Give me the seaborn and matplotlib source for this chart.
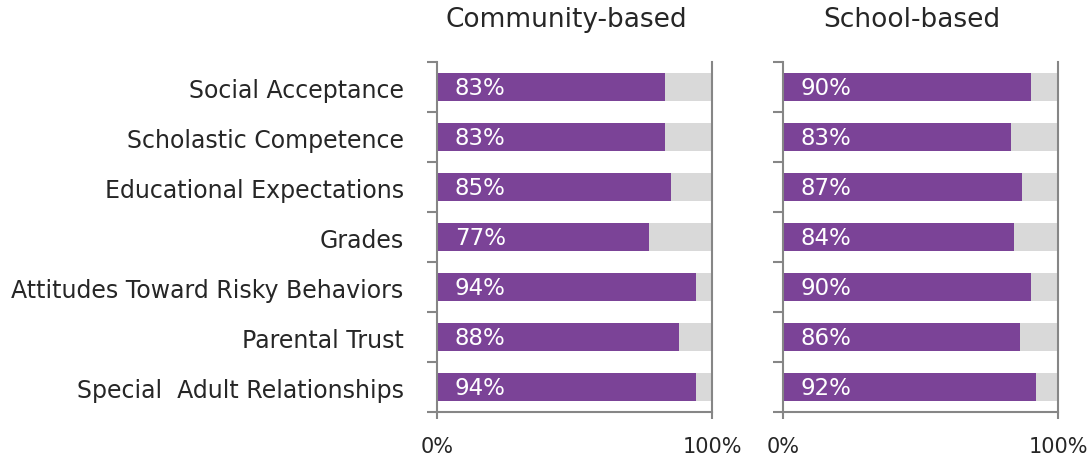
import matplotlib
matplotlib.use("Agg")
import matplotlib.pyplot as plt
import seaborn as sns
import pandas as pd
import numpy as np

categories = [
    "Social Acceptance",
    "Scholastic Competence",
    "Educational Expectations",
    "Grades",
    "Attitudes Toward Risky Behaviors",
    "Parental Trust",
    "Special  Adult Relationships",
]
community_based = [83, 83, 85, 77, 94, 88, 94]
school_based = [90, 83, 87, 84, 90, 86, 92]
panel_titles = ["Community-based", "School-based"]
x_tick_labels = ["0%", "100%"]

sns.set_theme(style="white")
plt.rcParams["font.family"] = ["DejaVu Sans"]

PURPLE = "#7B4397"
TRACK = "#D9D9D9"
SPINE = "#868686"
TEXT = "#262626"

fig = plt.figure(figsize=(10.88, 4.60), dpi=100)
ax_left = fig.add_axes([0.4017, 0.102, 0.2528, 0.761])
ax_right = fig.add_axes([0.7197, 0.102, 0.2528, 0.761])

n = len(categories)
for ax, values, title, show_labels in [
    (ax_left, community_based, panel_titles[0], True),
    (ax_right, school_based, panel_titles[1], False),
]:
    df = pd.DataFrame({"category": categories, "value": values, "full": [100] * n})
    # light grey track showing the full 100%, with the share drawn on top
    sns.barplot(data=df, x="full", y="category", orient="h", color=TRACK,
                width=0.56, ax=ax, saturation=1, linewidth=0)
    sns.barplot(data=df, x="value", y="category", orient="h", color=PURPLE,
                width=0.56, ax=ax, saturation=1, linewidth=0)

    for i, v in enumerate(values):
        ax.text(6.5, i, f"{v}%", color="white", fontsize=16.5,
                va="center", ha="left")

    ax.set_xlim(0, 100)
    ax.set_ylim(n - 0.5, -0.5)
    ax.set_xlabel("")
    ax.set_ylabel("")
    ax.set_xticks([0, 100])
    ax.set_xticklabels(x_tick_labels, fontsize=15, color=TEXT)
    ax.tick_params(axis="x", which="major", bottom=True, direction="out",
                   length=5, width=1.5, color=SPINE, pad=12)
    ax.set_yticks(range(n))
    if show_labels:
        ax.set_yticklabels(categories, fontsize=17, color=TEXT)
    else:
        ax.set_yticklabels([])
    ax.tick_params(axis="y", which="major", left=False, length=0, pad=24)
    # separator ticks between categories
    ax.set_yticks(np.arange(-0.5, n, 1.0), minor=True)
    ax.tick_params(axis="y", which="minor", left=True, direction="out",
                   length=7, width=1.5, color=SPINE)

    for side in ["left", "bottom", "right"]:
        ax.spines[side].set_visible(True)
        ax.spines[side].set_color(SPINE)
        ax.spines[side].set_linewidth(1.5)
    ax.spines["top"].set_visible(False)

    ax.set_title(title, fontsize=19, color=TEXT, pad=26, x=0.47)

fig.savefig("out.png", dpi=100, facecolor="white")
